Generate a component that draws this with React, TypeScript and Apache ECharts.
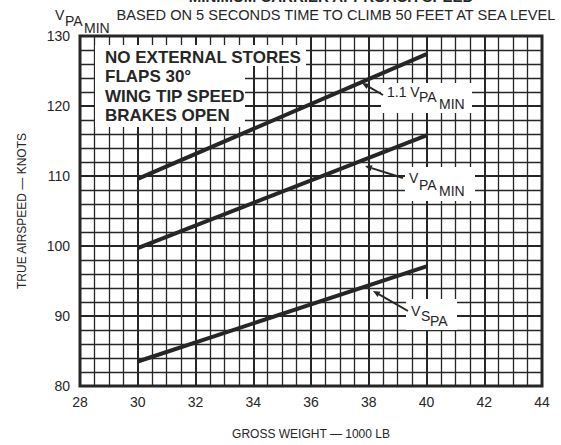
import React, { useEffect, useRef } from "react";
import * as echarts from "echarts";

const weights = [30, 40];
const vpaMin11 = [109.6, 127.4];
const vpaMin = [99.7, 115.8];
const vsPa = [83.5, 97.1];
const xTicks = [28, 30, 32, 34, 36, 38, 40, 42, 44];
const yTicks = [80, 90, 100, 110, 120, 130];
const notes = ["NO EXTERNAL STORES", "FLAPS 30°", "WING TIP SPEED", "BRAKES OPEN"];

const INK = "#262626";
const FONT = "Liberation Sans, Arial, sans-serif";

function pairs(xs: number[], ys: number[]) {
  return xs.map((x, i) => [x, ys[i]]);
}

function subLabel(parts: { t: string; dx: number; dy: number }[], x: number, y: number, size = 14) {
  return parts.map((p) => ({
    type: "text",
    x: x + p.dx,
    y: y + p.dy,
    z: 20,
    style: { text: p.t, font: `${size}px ${FONT}`, fill: INK, textVerticalAlign: "bottom" },
  }));
}

function arrow(x1: number, y1: number, x2: number, y2: number) {
  const ang = Math.atan2(y2 - y1, x2 - x1);
  const L = 7, W = 3;
  const bx = x2 - L * Math.cos(ang), by = y2 - L * Math.sin(ang);
  const px = -Math.sin(ang) * W, py = Math.cos(ang) * W;
  return [
    { type: "line", z: 20, shape: { x1, y1, x2: bx, y2: by }, style: { stroke: INK, lineWidth: 2 } },
    {
      type: "polygon", z: 20,
      shape: { points: [[x2, y2], [bx + px, by + py], [bx - px, by - py]] },
      style: { fill: INK },
    },
  ];
}

export default function App() {
  const ref = useRef<HTMLDivElement>(null);
  useEffect(() => {
    document.body.style.margin = "0";
    if (!ref.current) return;
    const chart = echarts.init(ref.current, null, { renderer: "svg" });
    const lineSeries = (name: string, ys: number[]) => ({
      name,
      type: "line",
      data: pairs(weights, ys),
      symbol: "none",
      z: 10,
      lineStyle: { color: INK, width: 4 },
    });
    const graphic: any[] = [
      {
        type: "text", z: 20, x: 331, y: 4,
        style: { text: "MINIMUM CARRIER APPROACH SPEED", font: `bold 15px ${FONT}`, fill: INK, textVerticalAlign: "bottom", textAlign: "center" },
      },
      {
        type: "text", z: 20,
        x: 336, y: 15,
        style: { text: "BASED ON 5 SECONDS TIME TO CLIMB 50 FEET AT SEA LEVEL", font: `14.6px ${FONT}`, fill: INK, textAlign: "center", textVerticalAlign: "middle" },
      },
      ...subLabel([{ t: "V", dx: 0, dy: 0 }, { t: "PA", dx: 10, dy: 6 }, { t: "MIN", dx: 29, dy: 13 }], 55, 22),
      { type: "rect", z: 15, shape: { x: 95, y: 45, width: 211, height: 21 }, style: { fill: "#fff" } },
      { type: "rect", z: 15, shape: { x: 95, y: 45, width: 150, height: 82 }, style: { fill: "#fff" } },
      ...notes.map((t, i) => ({
        type: "text", z: 20, x: 105, y: 57 + i * 19.6,
        style: { text: t, font: `bold 17px ${FONT}`, fill: INK, textVerticalAlign: "middle" },
      })),
      { type: "rect", z: 15, shape: { x: 381, y: 83, width: 91, height: 30 }, style: { fill: "#fff" } },
      ...subLabel([{ t: "1.1 V", dx: 0, dy: 0 }, { t: "PA", dx: 32, dy: 5 }, { t: "MIN", dx: 52, dy: 12 }], 387, 99),
      ...arrow(383, 95, 362, 83),
      { type: "rect", z: 15, shape: { x: 405, y: 167, width: 70, height: 34 }, style: { fill: "#fff" } },
      ...subLabel([{ t: "V", dx: 0, dy: 0 }, { t: "PA", dx: 10, dy: 7 }, { t: "MIN", dx: 30, dy: 13 }], 409, 185),
      ...arrow(403, 178, 365, 166),
      { type: "rect", z: 15, shape: { x: 406, y: 299, width: 51, height: 31 }, style: { fill: "#fff" } },
      ...subLabel([{ t: "V", dx: 0, dy: 0 }, { t: "S", dx: 10, dy: 5 }, { t: "PA", dx: 19, dy: 10 }], 411, 318),
      ...arrow(408, 311, 373, 291),
    ];
    chart.setOption({
      animation: false,
      backgroundColor: "#fff",
      textStyle: { fontFamily: FONT },
      grid: { left: 80, top: 36, right: 19, bottom: 49, show: true, borderColor: INK, borderWidth: 3, backgroundColor: "transparent" },
      xAxis: {
        type: "value", min: xTicks[0], max: xTicks[xTicks.length - 1], interval: 2,
        name: "GROSS WEIGHT — 1000 LB", nameLocation: "middle", nameGap: 42,
        nameTextStyle: { fontSize: 12, color: INK },
        axisLine: { show: false }, axisTick: { show: false },
        axisLabel: { fontSize: 14, color: INK, margin: 9 },
        splitLine: { show: true, lineStyle: { color: INK, width: 2 } },
        minorTick: { show: false, splitNumber: 4 },
        minorSplitLine: { show: true, lineStyle: { color: INK, width: 1.3 } },
      },
      yAxis: {
        type: "value", min: yTicks[0], max: yTicks[yTicks.length - 1], interval: 10,
        name: "TRUE AIRSPEED — KNOTS", nameLocation: "middle", nameGap: 52, nameRotate: 90,
        nameTextStyle: { fontSize: 12, color: INK },
        axisLine: { show: false }, axisTick: { show: false },
        axisLabel: { fontSize: 14, color: INK, margin: 10 },
        splitLine: { show: true, lineStyle: { color: INK, width: 2 } },
        minorTick: { show: false, splitNumber: 5 },
        minorSplitLine: { show: true, lineStyle: { color: INK, width: 1.3 } },
      },
      series: [lineSeries("1.1 VPAmin", vpaMin11), lineSeries("VPAmin", vpaMin), lineSeries("VsPA", vsPa)],
      graphic,
    });
    return () => chart.dispose();
  }, []);
  return <div ref={ref} style={{ width: 561, height: 445 }} />;
}
